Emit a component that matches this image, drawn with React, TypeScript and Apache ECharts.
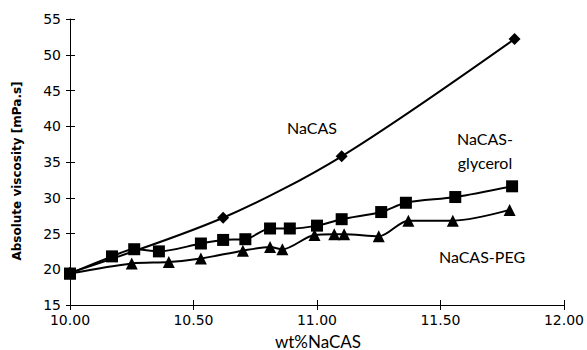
import React, { useEffect, useRef } from "react";
import * as echarts from "echarts";

const xTicks = ["10.00", "10.50", "11.00", "11.50", "12.00"];
const nacasX = [10.0, 10.62, 11.1, 11.8];
const nacasY = [19.5, 27.2, 35.8, 52.2];
const glycerolX = [10.0, 10.17, 10.26, 10.36, 10.53, 10.62, 10.71, 10.81, 10.89, 11.0, 11.1, 11.26, 11.36, 11.56, 11.79];
const glycerolY = [19.4, 21.8, 22.8, 22.5, 23.6, 24.1, 24.2, 25.7, 25.7, 26.1, 27.0, 28.0, 29.3, 30.1, 31.6];
const pegX = [10.0, 10.25, 10.4, 10.53, 10.7, 10.81, 10.86, 10.99, 11.07, 11.11, 11.25, 11.37, 11.55, 11.78];
const pegY = [19.4, 20.8, 21.0, 21.5, 22.6, 23.1, 22.8, 24.8, 24.9, 24.9, 24.6, 26.8, 26.8, 28.3];

const pairs = (xs: number[], ys: number[]) => xs.map((x, i) => [x, ys[i]]);

export default function App() {
  const ref = useRef<HTMLDivElement>(null);
  useEffect(() => {
    if (!ref.current) return;
    const chart = echarts.init(ref.current, undefined, { renderer: "svg" });
    const tickFont = { fontFamily: "DejaVu Sans, sans-serif", fontSize: 14, color: "#000" };
    const lblFont = { fontFamily: "Lato, sans-serif", fontSize: 16, fill: "#000" };
    const baseX = {
      type: "value" as const,
      min: 10,
      max: 12,
      interval: 0.5,
      splitLine: { show: false },
    };
    const baseY = {
      type: "value" as const,
      min: 15,
      max: 55,
      interval: 5,
      splitLine: { show: false },
    };
    const lineSeries = (name: string, data: number[][], symbol: string, size: number) => ({
      name,
      type: "line",
      data,
      smooth: 0.3,
      symbol,
      symbolSize: size,
      showSymbol: true,
      lineStyle: { color: "#000", width: 2 },
      itemStyle: { color: "#000" },
    });
    chart.setOption({
      animation: false,
      backgroundColor: "#fff",
      grid: { left: 70, right: 22, top: 19, bottom: 45, containLabel: false },
      xAxis: [
        {
          ...baseX,
          axisLine: { show: true, lineStyle: { color: "#000", width: 1 } },
          axisTick: { show: true, length: 5, lineStyle: { color: "#000" } },
          axisLabel: {
            ...tickFont,
            margin: 8,
            formatter: (v: number) => xTicks[Math.round((v - 10) / 0.5)] ?? "",
          },
        },
        {
          ...baseX,
          position: "bottom",
          axisLine: { show: false },
          axisTick: { show: true, inside: true, length: 5, lineStyle: { color: "#000" } },
          axisLabel: { show: false },
        },
      ],
      yAxis: [
        {
          ...baseY,
          axisLine: { show: true, lineStyle: { color: "#000", width: 1 } },
          axisTick: { show: true, length: 4, lineStyle: { color: "#000" } },
          axisLabel: { ...tickFont, margin: 9 },
        },
        {
          ...baseY,
          position: "left",
          offset: 0,
          axisLine: { show: false },
          axisTick: { show: true, inside: true, length: 5, lineStyle: { color: "#000" } },
          axisLabel: { show: false },
        },
      ],
      graphic: [
        {
          type: "text",
          x: 17,
          y: 171,
          rotation: Math.PI / 2,
          style: {
            text: "Absolute viscosity [mPa.s]",
            fontFamily: "DejaVu Sans, sans-serif",
            fontWeight: "bold",
            fontSize: 12,
            fill: "#000",
            align: "center",
            verticalAlign: "middle",
          },
        },
        {
          type: "text",
          x: 318,
          y: 341,
          style: { ...lblFont, fontSize: 17, text: "wt%NaCAS", align: "center", verticalAlign: "middle" },
        },
        {
          type: "text",
          x: 312,
          y: 127,
          style: { ...lblFont, text: "NaCAS", align: "center", verticalAlign: "middle" },
        },
        {
          type: "text",
          x: 485,
          y: 150,
          style: {
            ...lblFont,
            text: "NaCAS-\nglycerol",
            lineHeight: 24,
            align: "center",
            verticalAlign: "middle",
          },
        },
        {
          type: "text",
          x: 482,
          y: 256,
          style: { ...lblFont, text: "NaCAS-PEG", align: "center", verticalAlign: "middle" },
        },
      ],
      series: [
        lineSeries("NaCAS", pairs(nacasX, nacasY), "diamond", 12),
        lineSeries("NaCAS-glycerol", pairs(glycerolX, glycerolY), "rect", 12),
        lineSeries("NaCAS-PEG", pairs(pegX, pegY), "triangle", 12),
      ],
    });
    return () => chart.dispose();
  }, []);
  return <div ref={ref} style={{ width: 587, height: 350, position: "absolute", left: 0, top: 0 }} />;
}
